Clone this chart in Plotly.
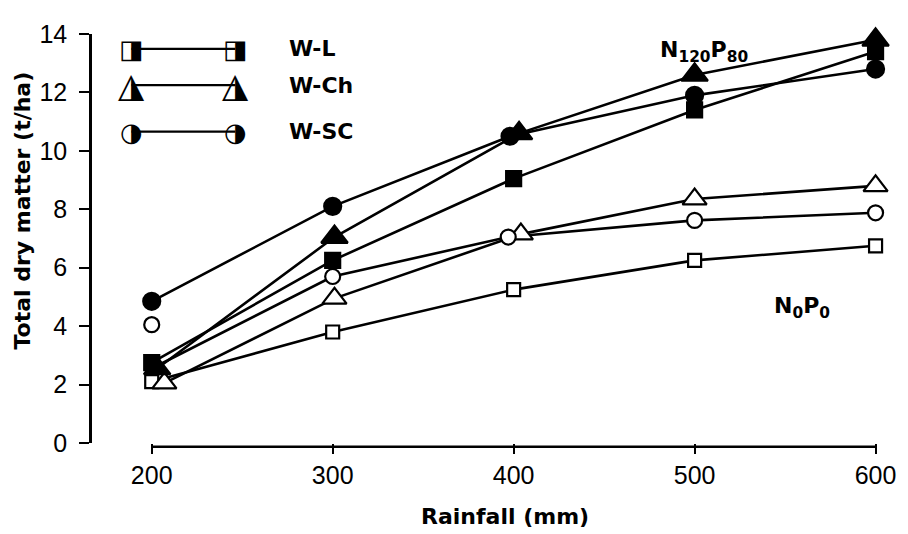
import plotly.graph_objects as go

# ---------------- data ----------------
rainfall = [200, 300, 400, 500, 600]
x_ticks = [200, 300, 400, 500, 600]
y_ticks = [0, 2, 4, 6, 8, 10, 12, 14]

# N120P80 (filled markers)
wl_np_x = [200, 300, 400, 500, 600]
wl_np = [2.75, 6.25, 9.05, 11.4, 13.4]
wch_np_x = [203, 301, 403, 500, 600]
wch_np = [2.55, 7.05, 10.6, 12.6, 13.8]
wsc_np_x = [200, 300, 398, 500, 600]
wsc_np = [4.85, 8.1, 10.5, 11.9, 12.8]

# N0P0 (open markers)
wl_00_x = [200, 300, 400, 500, 600]
wl_00 = [2.1, 3.8, 5.25, 6.25, 6.75]
wch_00_x = [207, 301, 404, 500, 600]
wch_00 = [2.05, 4.95, 7.15, 8.35, 8.8]
wsc_00_x = [200, 300, 397, 500, 600]
wsc_00 = [4.05, 5.7, 7.05, 7.62, 7.88]
# in the original drawing the W-SC N0P0 line starts from the cluster near 2.55 t/ha
wsc_00_line = [2.55, 5.7, 7.05, 7.62, 7.88]

legend_labels = ["W-L", "W-Ch", "W-SC"]
legend_glyphs = ["\u25E8", "\u25EE", "\u25D1"]

TXT = "DejaVu Sans"
NUM = "Liberation Sans"
LW = 2.6

fig = go.Figure()

line_sets = [
    (wl_np_x, wl_np), (wch_np_x, wch_np), (wsc_np_x, wsc_np),
    (wl_00_x, wl_00), (wch_00_x, wch_00), (wsc_00_x, wsc_00_line),
]
for xs, ys in line_sets:
    fig.add_trace(go.Scatter(x=xs, y=ys, mode="lines",
                             line=dict(color="black", width=LW),
                             showlegend=False, hoverinfo="skip"))

marker_sets = [
    (wl_00_x, wl_00, "square", 13, "white"),
    (wch_00_x, wch_00, "triangle-up", 21, "white"),
    (wsc_00_x, wsc_00, "circle", 15, "white"),
    (wl_np_x, wl_np, "square", 15, "black"),
    (wch_np_x, wch_np, "triangle-up", 23, "black"),
    (wsc_np_x, wsc_np, "circle", 17, "black"),
]
for xs, ys, sym, sz, fill in marker_sets:
    fig.add_trace(go.Scatter(x=xs, y=ys, mode="markers", cliponaxis=False,
                             marker=dict(symbol=sym, size=sz, color=fill,
                                         line=dict(color="black", width=2.2)),
                             showlegend=False))

# x axis line only between 200 and 600
fig.add_shape(type="line", xref="x", yref="paper", x0=x_ticks[0], x1=x_ticks[-1],
              y0=-0.009, y1=-0.009, line=dict(color="black", width=2.6))

annotations = []
# legend (drawn manually: half-filled symbols)
leg_rows_y = [0.9637, 0.875, 0.7613]
for lab, gl, yy in zip(legend_labels, legend_glyphs, leg_rows_y):
    fig.add_shape(type="line", xref="paper", yref="paper",
                  x0=0.0501, x1=0.1817, y0=yy, y1=yy,
                  line=dict(color="black", width=2.4))
    for xx in (0.05, 0.1817):
        annotations.append(dict(xref="paper", yref="paper", x=xx, y=yy, text=gl,
                                showarrow=False, xanchor="center", yanchor="middle",
                                font=dict(family=TXT, size=26 if gl != "\u25EE" else 34,
                                          color="black")))
    annotations.append(dict(xref="paper", yref="paper", x=0.2475, y=yy, text="<b>" + lab + "</b>",
                            showarrow=False, xanchor="left", yanchor="middle",
                            font=dict(family=TXT, size=22, color="black")))

annotations.append(dict(xref="paper", yref="paper", x=0.7757, y=0.957,
                        text="<b>N<sub>120</sub>P<sub>80</sub></b>", showarrow=False,
                        xanchor="center", yanchor="middle",
                        font=dict(family=TXT, size=22, color="black")))
annotations.append(dict(xref="paper", yref="paper", x=0.8997, y=0.332,
                        text="<b>N<sub>0</sub>P<sub>0</sub></b>", showarrow=False,
                        xanchor="center", yanchor="middle",
                        font=dict(family=TXT, size=22, color="black")))
# axis titles
annotations.append(dict(xref="paper", yref="paper", x=-0.0877, y=0.568,
                        text="<b>Total dry matter (t/ha)</b>", showarrow=False, textangle=-90,
                        xanchor="center", yanchor="middle",
                        font=dict(family=TXT, size=22, color="black")))
annotations.append(dict(xref="paper", yref="paper", x=0.523, y=-0.18,
                        text="<b>Rainfall (mm)</b>", showarrow=False,
                        xanchor="center", yanchor="middle",
                        font=dict(family=TXT, size=22, color="black")))

# the page body adds an 8 px offset, so the figure is 8 px smaller each way
fig.update_layout(
    width=900, height=526,
    margin=dict(l=84, r=18, t=16, b=91),
    paper_bgcolor="white", plot_bgcolor="white",
    annotations=annotations,
    xaxis=dict(range=[167, 603], tickvals=x_ticks, ticktext=[str(v) for v in x_ticks],
               showline=False, showgrid=False, zeroline=False,
               ticks="outside", ticklen=10, tickwidth=2.4, tickcolor="black",
               ticklabelstandoff=0,
               tickfont=dict(family=NUM, size=25, color="black")),
    yaxis=dict(range=[0, 14], tickvals=y_ticks, showline=True, linecolor="black",
               linewidth=2.6, showgrid=False, zeroline=False,
               ticks="outside", ticklen=10, tickwidth=2.4, tickcolor="black",
               ticklabelstandoff=7,
               tickfont=dict(family=NUM, size=25, color="black")),
)

fig.write_html("out.html")
